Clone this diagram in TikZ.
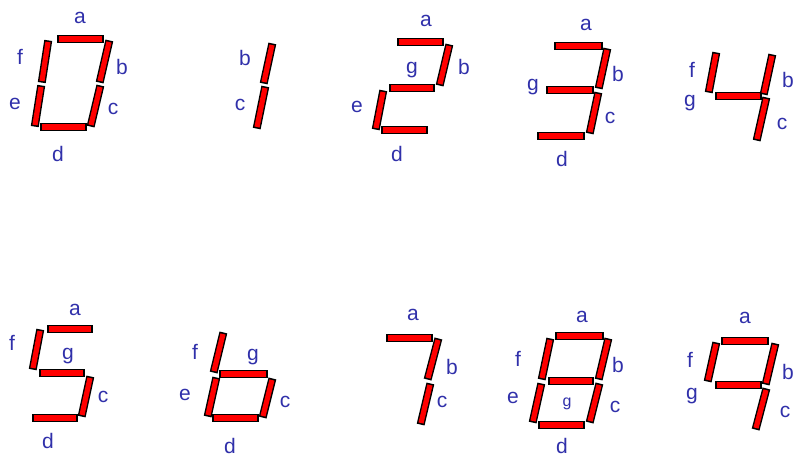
\documentclass[tikz,border=0pt]{standalone}
\usepackage{fontspec}
\setmainfont{Liberation Sans}
\usepackage{xcolor}
\definecolor{SegRed}  {RGB}{255, 0,   0}
\definecolor{LblBlue} {RGB}{48,  48, 170}
\usepackage{tikz}
\usetikzlibrary{positioning}

\begin{document}
\begin{tikzpicture}[x=1pt, y=-1pt,
  seg/.style = {draw=black, line width=8pt,
                shorten >=-1.6pt, shorten <=-1.6pt,
                postaction={draw=SegRed, line width=5.2pt,
                            shorten >=0pt, shorten <=0pt}},
  lbl/.style = {inner sep=0pt, text=LblBlue,
                font=\fontsize{21}{21}\selectfont}
]
  \useasboundingbox (0,0) rectangle (800,458);

  %% Digit 0
  \draw[seg] (59,39)  -- (102,39);
  \draw[seg] (109,42) -- (100,81);
  \draw[seg] (100,87) -- (91,125);
  \draw[seg] (42,127) -- (85,127);
  \draw[seg] (41,87)  -- (35,125);
  \draw[seg] (48,42)  -- (42,81);
  \node[lbl] (z-a) at (80,18)  {a};
  \node[lbl] (z-b) at (122,67) {b};
  \node[lbl] (z-c) at (113,109) {c};
  \node[lbl] (z-d) at (58,154) {d};
  \node[lbl] (z-e) at (15,104) {e};
  \node[lbl] (z-f) at (20,57)  {f};

  %% Digit 1
  \draw[seg] (272,45) -- (264,82);
  \draw[seg] (265,88) -- (257,127);
  \node[lbl] (o-b) at (245,58)  {b};
  \node[lbl] (o-c) at (240,105) {c};

  %% Digit 2
  \draw[seg] (399,42) -- (442,42);
  \draw[seg] (449,46) -- (440,84);
  \draw[seg] (391,88) -- (433,88);
  \draw[seg] (383,92) -- (376,128);
  \draw[seg] (383,130) -- (426,130);
  \node[lbl] (t-a) at (426,21)  {a};
  \node[lbl] (t-b) at (464,67)  {b};
  \node[lbl] (t-g) at (412,70)  {g};
  \node[lbl] (t-e) at (357,107) {e};
  \node[lbl] (t-d) at (397,154) {d};

  %% Digit 3
  \draw[seg] (556,46) -- (601,46);
  \draw[seg] (607,50) -- (599,87);
  \draw[seg] (548,90) -- (592,90);
  \draw[seg] (598,94) -- (590,132);
  \draw[seg] (539,136) -- (583,136);
  \node[lbl] (h-a) at (586,25)  {a};
  \node[lbl] (h-b) at (618,74)  {b};
  \node[lbl] (h-g) at (533,87)  {g};
  \node[lbl] (h-c) at (610,118) {c};
  \node[lbl] (h-d) at (562,159) {d};

  %% Digit 4
  \draw[seg] (716,54) -- (709,91);
  \draw[seg] (717,96) -- (760,96);
  \draw[seg] (772,56) -- (764,93);
  \draw[seg] (766,99) -- (757,139);
  \node[lbl] (v-f) at (692,70)  {f};
  \node[lbl] (v-g) at (690,103) {g};
  \node[lbl] (v-b) at (788,80)  {b};
  \node[lbl] (v-c) at (782,124) {c};

  %% Digit 5
  \draw[seg] (49,329) -- (91,329);
  \draw[seg] (40,331) -- (33,368);
  \draw[seg] (41,373) -- (83,373);
  \draw[seg] (90,378) -- (82,415);
  \draw[seg] (34,418) -- (76,418);
  \node[lbl] (p-a) at (75,310)  {a};
  \node[lbl] (p-f) at (12,343)  {f};
  \node[lbl] (p-g) at (68,356)  {g};
  \node[lbl] (p-c) at (103,397) {c};
  \node[lbl] (p-d) at (48,441)  {d};

  %% Digit 6
  \draw[seg] (223,334) -- (214,371);
  \draw[seg] (221,374) -- (266,374);
  \draw[seg] (216,379) -- (208,415);
  \draw[seg] (272,380) -- (263,416);
  \draw[seg] (214,418) -- (257,418);
  \node[lbl] (s-f) at (195,352) {f};
  \node[lbl] (s-g) at (253,357) {g};
  \node[lbl] (s-e) at (185,395) {e};
  \node[lbl] (s-c) at (285,402) {c};
  \node[lbl] (s-d) at (230,446) {d};

  %% Digit 7
  \draw[seg] (388,338) -- (431,338);
  \draw[seg] (438,340) -- (428,378);
  \draw[seg] (430,385) -- (421,423);
  \node[lbl] (w-a) at (413,315) {a};
  \node[lbl] (w-b) at (452,367) {b};
  \node[lbl] (w-c) at (442,402) {c};

  %% Digit 8
  \draw[seg] (557,336) -- (602,336);
  \draw[seg] (550,340) -- (542,378);
  \draw[seg] (608,340) -- (599,378);
  \draw[seg] (550,381) -- (592,381);
  \draw[seg] (541,385) -- (533,421);
  \draw[seg] (599,385) -- (590,421);
  \draw[seg] (540,425) -- (583,425);
  \node[lbl] (e-a) at (582,317) {a};
  \node[lbl] (e-f) at (518,359) {f};
  \node[lbl] (e-b) at (618,365) {b};
  \node[lbl] (e-e) at (513,398) {e};
  \node[lbl, font=\fontsize{16}{16}\selectfont] (e-g) at (567,404) {g};
  \node[lbl] (e-c) at (615,407) {c};
  \node[lbl] (e-d) at (562,446) {d};

  %% Digit 9
  \draw[seg] (723,341) -- (767,341);
  \draw[seg] (716,344) -- (708,380);
  \draw[seg] (775,345) -- (766,383);
  \draw[seg] (717,385) -- (760,385);
  \draw[seg] (766,390) -- (756,428);
  \node[lbl] (n-a) at (745,318) {a};
  \node[lbl] (n-f) at (690,360) {f};
  \node[lbl] (n-b) at (788,372) {b};
  \node[lbl] (n-g) at (692,396) {g};
  \node[lbl] (n-c) at (785,412) {c};
\end{tikzpicture}
\end{document}
